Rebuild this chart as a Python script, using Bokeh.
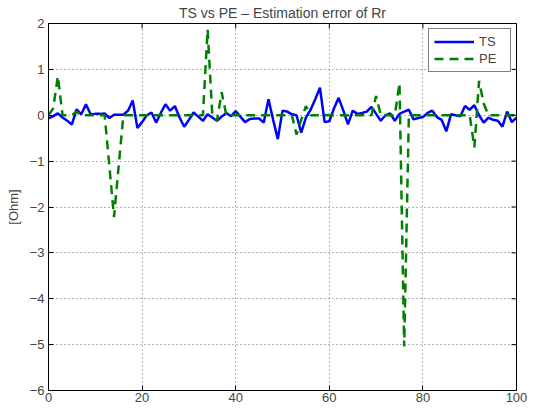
from bokeh.plotting import figure
from bokeh.models import FixedTicker, Legend, LegendItem, Range1d
from bokeh.embed import file_html
from bokeh.resources import INLINE
import math

x = list(range(101))
ts = [-0.07, -0.02, 0.04, -0.05, -0.12, -0.20, 0.13, 0.02, 0.24, 0.02,
      0.03, 0.03, 0.04, -0.06, 0.01, 0.01, 0.01, 0.10, 0.32, -0.28,
      -0.15, 0.00, 0.06, -0.16, 0.05, 0.24, 0.10, 0.20, -0.05, -0.25,
      -0.10, 0.06, -0.03, -0.12, 0.02, -0.05, -0.12, -0.03, 0.05, -0.02,
      0.09, -0.03, -0.15, -0.08, -0.07, -0.07, -0.16, 0.35, -0.10, -0.52,
      0.10, 0.08, 0.02, 0.00, -0.38, -0.05, 0.12, 0.35, 0.60, -0.15,
      -0.13, 0.15, 0.38, 0.10, -0.20, 0.10, 0.03, 0.05, 0.08, 0.18,
      0.03, -0.12, 0.00, 0.04, -0.12, 0.03, 0.08, 0.12, -0.09, -0.06,
      -0.04, 0.05, 0.10, -0.04, -0.10, -0.35, 0.02, 0.00, -0.02, 0.20,
      0.12, 0.22, 0.00, -0.16, -0.05, -0.10, -0.12, -0.25, 0.08, -0.15,
      -0.05]
pe = [0.00, 0.15, 0.85, 0.00, 0.00, 0.00, 0.08, 0.00, 0.00, 0.00,
      0.00, 0.00, 0.00, -1.10, -2.22, -1.10, 0.00, 0.00, 0.00, 0.00,
      0.00, 0.00, 0.00, 0.00, 0.00, 0.00, 0.00, 0.00, 0.00, 0.00,
      0.00, 0.00, 0.00, 0.00, 1.87, 0.00, -0.12, 0.50, 0.00, 0.00,
      0.00, 0.00, 0.00, 0.00, 0.00, 0.00, 0.00, 0.00, 0.00, 0.00,
      0.00, 0.00, 0.00, -0.42, -0.10, 0.20, 0.00, 0.00, 0.00, 0.00,
      0.00, 0.00, 0.00, 0.00, 0.00, 0.00, 0.00, 0.00, 0.00, 0.00,
      0.42, 0.00, 0.00, 0.00, 0.00, 0.70, -5.04, 0.00, 0.00, 0.00,
      0.00, 0.00, 0.00, 0.00, 0.00, 0.00, 0.00, 0.00, 0.00, 0.00,
      0.00, -0.70, 0.75, 0.25, 0.00, 0.00, 0.00, 0.00, 0.00, 0.00,
      0.00]
x_ticks = [0, 20, 40, 60, 80, 100]
x_tick_labels = ["0", "20", "40", "60", "80", "100"]
y_ticks = [-6, -5, -4, -3, -2, -1, 0, 1, 2]
y_tick_labels = ["\u22126", "\u22125", "\u22124", "\u22123", "\u22122", "\u22121", "0", "1", "2"]

FONT = "Liberation Sans"
FS = "13px"

x_min, x_max = x_ticks[0], x_ticks[-1]
y_min, y_max = y_ticks[0], y_ticks[-1]

p = figure(width=530, height=404, output_backend="svg", toolbar_location=None,
           x_range=Range1d(x_min, x_max), y_range=Range1d(y_min, y_max),
           min_border_left=48, min_border_right=14, min_border_top=21, min_border_bottom=14,
           title="TS vs PE \u2013 Estimation error of Rr")
p.title.text_font = FONT
p.title.text_font_size = "14px"
p.title.text_font_style = "normal"
p.title.align = "center"
p.title.standoff = 5
p.background_fill_color = "white"
p.border_fill_color = "white"
p.outline_line_color = "black"
p.outline_line_width = 1

for g, ticks in ((p.xgrid[0], x_ticks), (p.ygrid[0], y_ticks)):
    g.ticker = FixedTicker(ticks=ticks)
    g.grid_line_color = "black"
    g.grid_line_alpha = 0.6
    g.grid_line_dash = "1 3"
    g.grid_line_width = 1

l1 = p.line(x, ts, line_color="#0000ff", line_width=2.5)
l2 = p.line(x, pe, line_color="#008000", line_width=2.5, line_dash="9 6")

# inward tick marks on the top and right edges (clipped to the frame)
p.scatter(x_ticks, [y_max] * len(x_ticks), marker="dash", size=10, angle=math.pi / 2,
          line_color="black", line_width=1)
p.scatter([x_max] * len(y_ticks), y_ticks, marker="dash", size=10,
          line_color="black", line_width=1)

for ax, ticks, labels in ((p.xaxis[0], x_ticks, x_tick_labels), (p.yaxis[0], y_ticks, y_tick_labels)):
    ax.ticker = FixedTicker(ticks=ticks)
    ax.major_label_overrides = {t: l for t, l in zip(ticks, labels)}
    ax.major_label_text_font = FONT
    ax.major_label_text_font_size = FS
    ax.major_tick_in = 5
    ax.major_tick_out = 0
    ax.minor_tick_in = 0
    ax.minor_tick_out = 0
    ax.major_label_standoff = 2
    ax.axis_line_color = "black"
    ax.major_tick_line_color = "black"

p.yaxis[0].major_label_standoff = 4
p.yaxis[0].axis_label = "[Ohm]"
p.yaxis[0].axis_label_text_font = FONT
p.yaxis[0].axis_label_text_font_size = FS
p.yaxis[0].axis_label_text_font_style = "normal"
p.yaxis[0].axis_label_standoff = 6

legend = Legend(items=[LegendItem(label="TS", renderers=[l1]), LegendItem(label="PE", renderers=[l2])],
                location="top_right")
legend.label_text_font = FONT
legend.label_text_font_size = FS
legend.glyph_width = 40
legend.glyph_height = 15
legend.label_height = 15
legend.label_width = 26
legend.label_standoff = 5
legend.spacing = 2
legend.padding = 5
legend.margin = 5
legend.border_line_color = "black"
legend.border_line_width = 1
legend.background_fill_alpha = 1.0
p.add_layout(legend)

open("out.html", "w").write(file_html(p, INLINE))
